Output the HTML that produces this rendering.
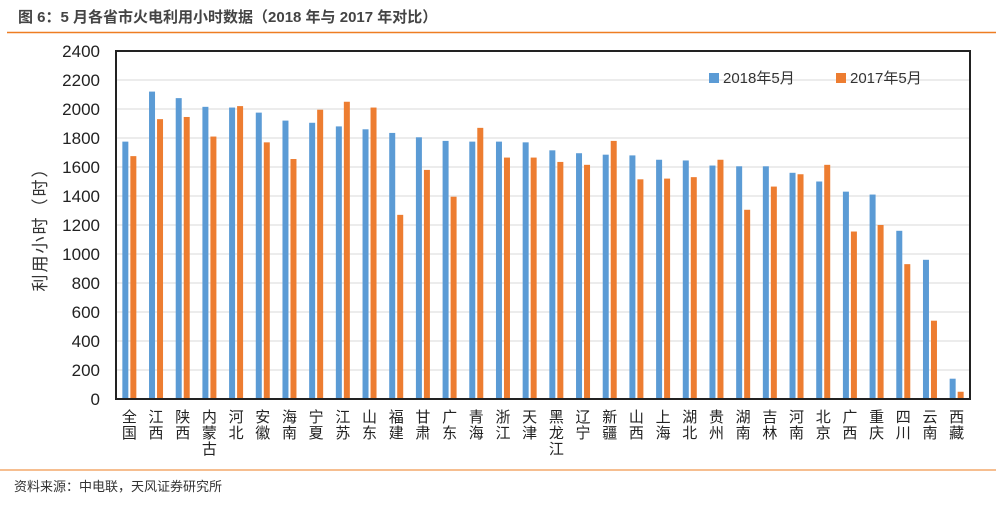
<!DOCTYPE html><html><head><meta charset="utf-8"><style>
body{margin:0;width:996px;height:500px;background:#fff;overflow:hidden;font-family:"Liberation Sans","Noto Sans CJK SC",sans-serif}
</style></head><body>
<svg id="s" width="996" height="500" xmlns="http://www.w3.org/2000/svg" font-family="Liberation Sans, Noto Sans CJK SC, sans-serif">
<text x="18" y="22" font-size="15" font-weight="bold" fill="#444">图 6：5 月各省市火电利用小时数据（2018 年与 2017 年对比）</text>
<line x1="7" y1="32.5" x2="996" y2="32.5" stroke="#ee7d22" stroke-width="1.5"/>
<line x1="0" y1="470" x2="996" y2="470" stroke="#ee7d22" stroke-width="1"/>
<text x="14" y="491" font-size="13" fill="#333">资料来源：中电联，天风证券研究所</text>
<text transform="translate(46,225) rotate(-90)" text-anchor="middle" font-size="17" fill="#333" letter-spacing="2">利用小时（时）</text>
<g id="g"></g>
</svg>
<script>
var d=[["全国",1775,1675],["江西",2120,1930],["陕西",2075,1945],["内蒙古",2015,1810],["河北",2010,2020],["安徽",1975,1770],["海南",1920,1655],["宁夏",1905,1995],["江苏",1880,2050],["山东",1860,2010],["福建",1835,1270],["甘肃",1805,1580],["广东",1780,1395],["青海",1775,1870],["浙江",1775,1665],["天津",1770,1665],["黑龙江",1715,1635],["辽宁",1695,1615],["新疆",1685,1780],["山西",1680,1515],["上海",1650,1520],["湖北",1645,1530],["贵州",1610,1650],["湖南",1605,1305],["吉林",1605,1465],["河南",1560,1550],["北京",1500,1615],["广西",1430,1155],["重庆",1410,1200],["四川",1160,930],["云南",960,540],["西藏",140,50]];
var L=116,R=970,T=51,B=399,h='';
function y(v){return B-v*(B-T)/2400}
for(var v=0;v<=2400;v+=200){var yy=y(v);if(v>0&&v<2400)h+='<line x1="'+L+'" x2="'+R+'" y1="'+yy+'" y2="'+yy+'" stroke="#d9d9d9" stroke-width="1"/>';
h+='<text x="100" y="'+(yy+6)+'" text-anchor="end" font-size="17" fill="#222">'+v+'</text>';}
var w=(R-L)/d.length;
d.forEach(function(e,i){var c=L+(i+0.5)*w;
h+='<rect x="'+(c-7)+'" y="'+y(e[1])+'" width="6" height="'+(B-y(e[1]))+'" fill="#5b9bd5"/>';
h+='<rect x="'+(c+1)+'" y="'+y(e[2])+'" width="6" height="'+(B-y(e[2]))+'" fill="#ed7d31"/>';
var ch=e[0].split('');ch.forEach(function(k,j){h+='<text x="'+c+'" y="'+(422+j*16)+'" text-anchor="middle" font-size="15" fill="#222">'+k+'</text>';});
});
h+='<rect x="'+L+'" y="'+T+'" width="'+(R-L)+'" height="'+(B-T)+'" fill="none" stroke="#222" stroke-width="2"/>';
h+='<rect x="709" y="73" width="10" height="10" fill="#5b9bd5"/><text x="723" y="83" font-size="15" fill="#333">2018年5月</text>';
h+='<rect x="836" y="73" width="10" height="10" fill="#ed7d31"/><text x="850" y="83" font-size="15" fill="#333">2017年5月</text>';
document.getElementById('g').innerHTML=h;
</script>
</body></html>
